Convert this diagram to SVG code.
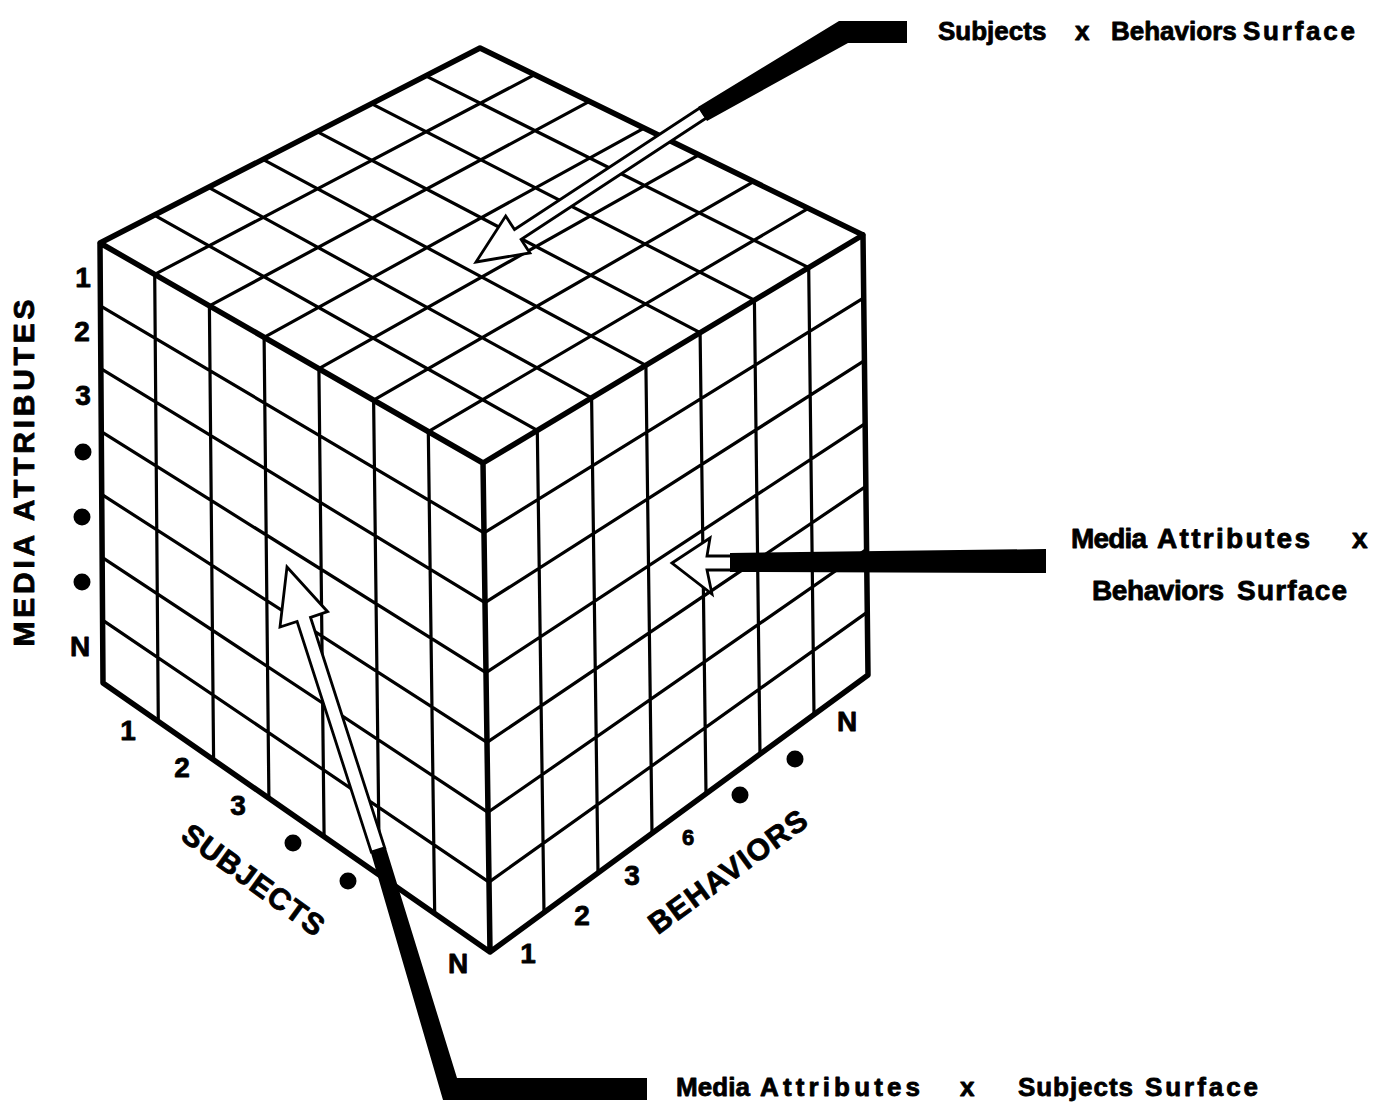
<svg xmlns="http://www.w3.org/2000/svg" width="1377" height="1109" viewBox="0 0 1377 1109">
<style>
.grid{stroke:#000;stroke-width:3.2;fill:none;stroke-linecap:round}
.edge{stroke:#000;stroke-width:5.5;fill:none;stroke-linejoin:round;stroke-linecap:round}
.lbl{font-family:"Liberation Sans",Arial,sans-serif;font-weight:bold;fill:#000;stroke:#000;stroke-width:0.8;stroke-linejoin:round}
.num{font-size:28px;text-anchor:middle}
.axis{font-size:30px;text-anchor:middle}
.cap{font-size:26px}
.ptr{fill:#fff;stroke:#000;stroke-width:2.8;stroke-linejoin:miter}
.bar{fill:#000}
</style>
<rect width="1377" height="1109" fill="#fff"/>
<g id="cube">
  <g id="top-face">
    <path class="grid" d="M154.7,274.4 L534.7,74.7 M209.4,305.9 L589.4,101.4 M264.1,337.3 L644.1,128.1 M318.9,368.7 L698.9,154.9 M373.6,400.1 L753.6,181.6 M428.3,431.6 L808.3,208.3 M154.3,215.1 L537.3,430.4 M208.6,187.3 L591.6,397.9 M262.9,159.4 L645.9,365.3 M317.1,131.6 L700.1,332.7 M371.4,103.7 L754.4,300.1 M425.7,75.9 L808.7,267.6"/>
  </g>
  <g id="left-face">
    <path class="grid" d="M154.7,274.4 L158.3,721.4 M209.4,305.9 L213.6,759.9 M264.1,337.3 L268.9,798.3 M318.9,368.7 L324.1,836.7 M373.6,400.1 L379.4,875.1 M428.3,431.6 L434.7,913.6 M100.4,305.9 L484,532.9 M100.9,368.7 L485,602.7 M101.3,431.6 L486,672.6 M101.7,494.4 L487,742.4 M102.1,557.3 L488,812.3 M102.6,620.1 L489,882.1"/>
  </g>
  <g id="right-face">
    <path class="grid" d="M537.3,430.4 L544,912.4 M591.6,397.9 L598,872.9 M645.9,365.3 L652,833.3 M700.1,332.7 L706,793.7 M754.4,300.1 L760,754.1 M808.7,267.6 L814,714.6 M484,532.9 L863.7,297.9 M485,602.7 L864.4,360.7 M486,672.6 L865.1,423.6 M487,742.4 L865.9,486.4 M488,812.3 L866.6,549.3 M489,882.1 L867.3,612.1"/>
  </g>
  <path class="edge" d="M100,243 L480,48 L863,235 L868,675 L490,952 L103,683 Z M100,243 L483,463 L863,235 M483,463 L490,952"/>
</g>
<g id="axis-media">
  <text class="lbl" font-size="30" transform="translate(34,473) rotate(-90)" text-anchor="middle" textLength="347" lengthAdjust="spacing">MEDIA ATTRIBUTES</text>
  <text class="lbl num" x="83" y="287">1</text>
  <text class="lbl num" x="82" y="341">2</text>
  <text class="lbl num" x="83" y="405">3</text>
  <circle cx="83" cy="452" r="8.5"/>
  <circle cx="82" cy="517" r="8.5"/>
  <circle cx="82" cy="582" r="8.5"/>
  <text class="lbl num" x="80" y="656">N</text>
</g>
<g id="axis-subjects">
  <text class="lbl num" x="128" y="740">1</text>
  <text class="lbl num" x="182" y="777">2</text>
  <text class="lbl num" x="238" y="815">3</text>
  <circle cx="293" cy="843" r="8.5"/>
  <circle cx="348" cy="881" r="8.5"/>
  <text class="lbl num" x="458" y="973">N</text>
  <text class="lbl axis" transform="translate(253,880) rotate(36)" y="10" textLength="168" lengthAdjust="spacing">SUBJECTS</text>
</g>
<g id="axis-behaviors">
  <text class="lbl num" x="528" y="963">1</text>
  <text class="lbl num" x="582" y="925">2</text>
  <text class="lbl num" x="632" y="885">3</text>
  <text class="lbl" font-size="22" text-anchor="middle" x="688" y="845">6</text>
  <circle cx="740" cy="795" r="8.5"/>
  <circle cx="795" cy="759" r="8.5"/>
  <text class="lbl num" x="847" y="731">N</text>
  <text class="lbl axis" transform="translate(728,872) rotate(-36)" y="10" textLength="188" lengthAdjust="spacing">BEHAVIORS</text>
</g>
<g id="label-subjects-behaviors">
  <text class="lbl cap" y="40"><tspan x="938">Subjects</tspan><tspan x="1075">x</tspan><tspan x="1111">Behaviors</tspan><tspan x="1243" textLength="112">Surface</tspan></text>
</g>
<g id="label-media-behaviors">
  <text class="lbl" font-size="28" y="548"><tspan x="1071" textLength="76">Media</tspan><tspan x="1157" textLength="153">Attributes</tspan><tspan x="1352">x</tspan></text>
  <text class="lbl" font-size="28" y="600"><tspan x="1092" textLength="132">Behaviors</tspan><tspan x="1237" textLength="110">Surface</tspan></text>
</g>
<g id="label-media-subjects">
  <text class="lbl cap" font-size="27" y="1096"><tspan x="676" textLength="74">Media</tspan><tspan x="760" textLength="160">Attributes</tspan><tspan x="960">x</tspan><tspan x="1018" textLength="115">Subjects</tspan><tspan x="1145" textLength="113">Surface</tspan></text>
</g>
<g id="connectors">
  <polygon class="ptr" points="476,262 529.9,252.9 521.1,239.5 706.3,118 699.7,108 514.5,229.5 505.7,216.1"/>
  <polygon class="bar" points="839,21 907,21 907,43 848,43 707,121 698,107"/>
  <polygon class="ptr" points="672,563 710,538 707,556 735,556 735,570 707,570 712,594"/>
  <polygon class="bar" points="730,553 1046,549 1046,573 730,572"/>
  <polygon class="ptr" points="287,567 327.6,611.7 310.5,617.3 384.7,847.9 371.3,852.1 297.1,621.5 280,627"/>
  <polygon class="bar" points="371,853 386,848 457,1078 647,1078 647,1100 443,1100"/>
</g>
</svg>
